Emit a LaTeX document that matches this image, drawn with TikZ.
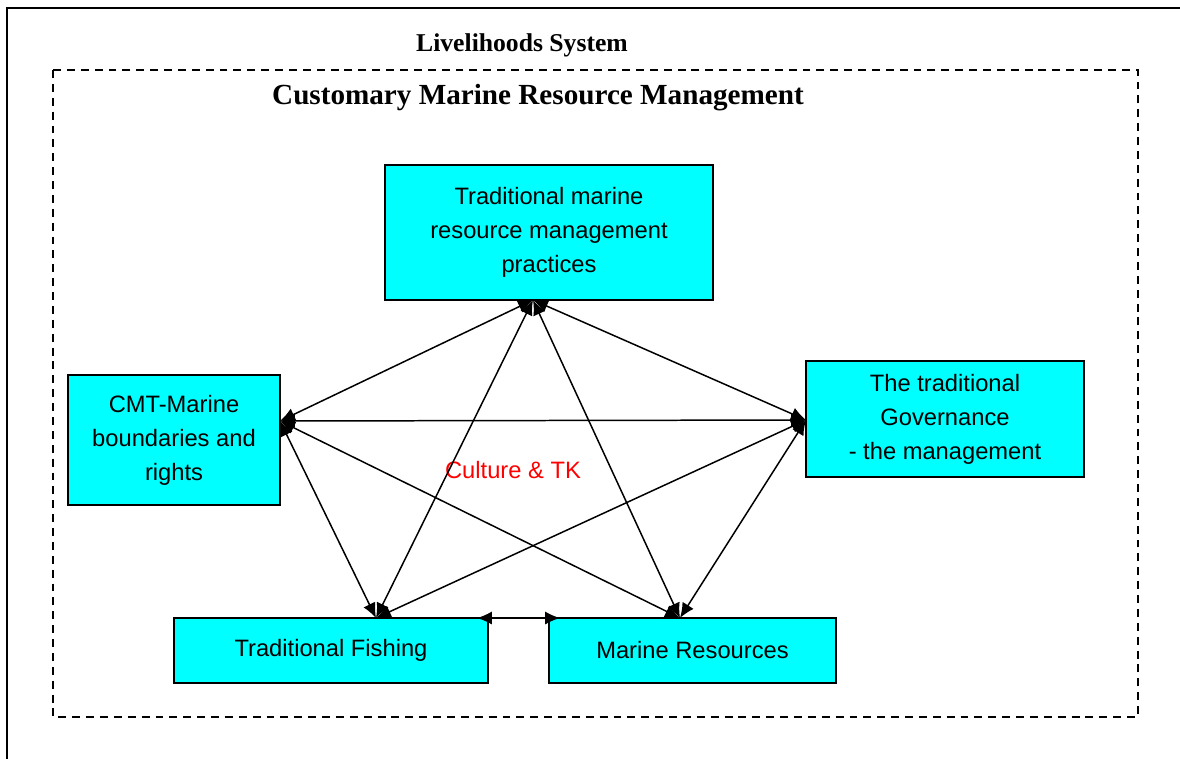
\documentclass[tikz,border=0pt]{standalone}
\usepackage{fontspec}
\setmainfont{Liberation Sans}
\newfontfamily\titlefont{Liberation Serif}
\usetikzlibrary{arrows.meta}
\definecolor{aqua}{RGB}{0,255,255}

\tikzset{
  part/.style={draw, line width=0.9pt, fill=aqua, align=center, inner sep=0pt,
    font=\fontsize{13.5}{19.3}\selectfont},
  link/.style={{Latex[length=8.5pt,width=7.5pt]}-{Latex[length=8.5pt,width=7.5pt]}, line width=0.85pt},
  heading/.style={font=\titlefont\bfseries\fontsize{14.6}{17}\selectfont}
}

\begin{document}
\begin{tikzpicture}[x=0.02cm, y=-0.02cm]
  \useasboundingbox (0,0) rectangle (1180,758);
  \clip (0,0) rectangle (1180,758);
  % frames
  \draw[line width=1.1pt] (7,770) -- (7,8) -- (1190,8);
  \draw[line width=1pt, dash pattern=on 4.5pt off 3.4pt] (53,70) rectangle (1138,717);
  \node[heading] (livelihood) at (522,45) {Livelihoods System};
  \node[heading, font=\titlefont\bfseries\fontsize{16.6}{19}\selectfont] (customary) at (538,98)
    {Customary Marine Resource Management};

  % boxes
  \node[part, minimum width=6.56cm, minimum height=2.7cm] (practices) at (549,232.5)
    {Traditional marine\\resource management\\practices};
  \node[part, minimum width=4.24cm, minimum height=2.6cm] (cmt) at (174,440)
    {CMT-Marine\\boundaries and\\rights};
  \node[part, minimum width=5.56cm, minimum height=2.32cm] (governance) at (945,419)
    {The traditional\\Governance\\- the management};
  \node[part, minimum width=6.28cm, minimum height=1.3cm] (fishing) at (331,650.5)
    {Traditional Fishing};
  \node[part, minimum width=5.74cm, minimum height=1.3cm] (resources) at (692.5,650.5)
    {Marine Resources};
  \node[text=red, font=\fontsize{13.5}{16}\selectfont] (culture) at (513,470) {Culture \& TK};

  % arrow ends
  \coordinate (practicesS) at (533,300);
  \coordinate (cmtE) at (280,421);
  \coordinate (governanceW) at (806,420);
  \coordinate (fishingN) at (376,618);
  \coordinate (resourcesN) at (680,618);
  \coordinate (fishingNE) at (477,618);
  \coordinate (resourcesNW) at (560,618);

  \draw[link] (practicesS) -- (cmtE);
  \draw[link] (practicesS) -- (governanceW);
  \draw[link] (practicesS) -- (fishingN);
  \draw[link] (practicesS) -- (resourcesN);
  \draw[link] (cmtE) -- (governanceW);
  \draw[link] (cmtE) -- (fishingN);
  \draw[link] (cmtE) -- (resourcesN);
  \draw[link] (governanceW) -- (fishingN);
  \draw[link] (governanceW) -- (resourcesN);
  \draw[link] (fishingNE) -- (resourcesNW);
\end{tikzpicture}
\end{document}
